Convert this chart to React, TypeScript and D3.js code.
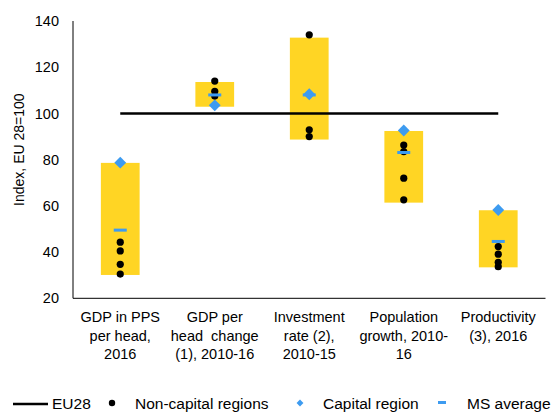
import React from "react";
import * as d3 from "d3";

const categories = ["c1", "c2", "c3", "c4", "c5"];
const categoryLabels = [
  ["GDP in PPS", "per head,", "2016"],
  ["GDP per", "head  change", "(1), 2010-16"],
  ["Investment", "rate (2),", "2010-15"],
  ["Population", "growth, 2010-", "16"],
  ["Productivity", "(3), 2016"],
];
const barLow = [30.1, 102.9, 88.7, 61.4, 33.4];
const barHigh = [78.6, 113.6, 132.8, 92.4, 58.1];
const nonCapital = [
  [44.3, 40.5, 34.7, 30.5],
  [114, 109.6, 107.5],
  [134, 92.9, 90.0],
  [86.3, 83.5, 72.0, 62.6],
  [42.4, 39.1, 35.6, 33.7],
];
const capital = [78.7, 103.5, 108.3, 92.6, 58.2];
const msAverage = [49.5, 108, 108, 83.1, 44.6];
const eu28 = [100, 100, 100, 100, 100];
const yTicks = [20, 40, 60, 80, 100, 120, 140];

const FONT = "'Liberation Sans', Arial, sans-serif";
const YELLOW = "#FFD524";
const BLUE = "#3D9BF0";

export default function App() {
  const W = 551, H = 413;
  const x = d3.scaleBand<string>().domain(categories).range([73, 545.5]).padding(0);
  const y = d3.scaleLinear().domain([20, 140]).range([298.3, 21]);
  const bw = x.bandwidth() * 0.41;
  const cx = (i: number) => (x(categories[i]) as number) + x.bandwidth() / 2;
  const line = d3.line<number>().x((_, i) => cx(i)).y((d) => y(d));
  const diamond = d3.symbol().type(d3.symbolDiamond2).size(90)();
  const fs = 14.5;
  const lfs = 15.5;

  return (
    <svg width={W} height={H} style={{ position: "absolute", left: 0, top: 0, background: "#fff" }} fontFamily={FONT}>
      {/* bars */}
      {categories.map((c, i) => (
        <rect key={c} x={cx(i) - bw / 2} y={y(barHigh[i])} width={bw} height={y(barLow[i]) - y(barHigh[i])} fill={YELLOW} />
      ))}
      {/* axes */}
      <line x1={73} x2={73} y1={y(140)} y2={y(20)} stroke="#000" strokeWidth={1} />
      <line x1={73} x2={545.5} y1={y(20)} y2={y(20)} stroke="#000" strokeWidth={1} />
      {yTicks.map((t) => (
        <text key={t} x={59} y={y(t)} dy="0.35em" textAnchor="end" fontSize={fs} fill="#000">{t}</text>
      ))}
      <text transform={`translate(24,${y(80) - 10}) rotate(-90)`} textAnchor="middle" fontSize={fs - 0.5} fill="#000">Index, EU 28=100</text>
      {categoryLabels.map((lines, i) => (
        <text key={i} x={cx(i)} y={322} textAnchor="middle" fontSize={fs} fill="#000">
          {lines.map((l, j) => (
            <tspan key={j} x={cx(i)} dy={j === 0 ? 0 : 18.5} style={{ whiteSpace: "pre" }}>{l}</tspan>
          ))}
        </text>
      ))}
      {/* EU28 line */}
      <path d={line(eu28) || ""} fill="none" stroke="#000" strokeWidth={2.5} />
      {/* non-capital dots */}
      {nonCapital.map((vals, i) =>
        vals.map((v, j) => <circle key={`${i}-${j}`} cx={cx(i)} cy={y(v)} r={3.6} fill="#000" />)
      )}
      {/* MS average */}
      {msAverage.map((v, i) => (
        <rect key={i} x={cx(i) - 6.5} y={y(v) - 1.5} width={13} height={3} fill={BLUE} />
      ))}
      {/* capital */}
      {capital.map((v, i) => (
        <path key={i} d={diamond || ""} transform={`translate(${cx(i)},${y(v)})`} fill={BLUE} />
      ))}
      {/* legend */}
      <g fontSize={lfs} fill="#000">
        <line x1={13} x2={48} y1={404} y2={404} stroke="#000" strokeWidth={2.5} />
        <text x={52} y={404} dy="0.35em">EU28</text>
        <circle cx={112} cy={403} r={3.2} fill="#000" />
        <text x={135} y={404} dy="0.35em">Non-capital regions</text>
        <path d={d3.symbol().type(d3.symbolDiamond2).size(30)() || ""} transform="translate(300,403)" fill={BLUE} />
        <text x={323} y={404} dy="0.35em">Capital region</text>
        <rect x={438} y={401} width={8} height={3} fill={BLUE} />
        <text x={467} y={404} dy="0.35em">MS average</text>
      </g>
    </svg>
  );
}
